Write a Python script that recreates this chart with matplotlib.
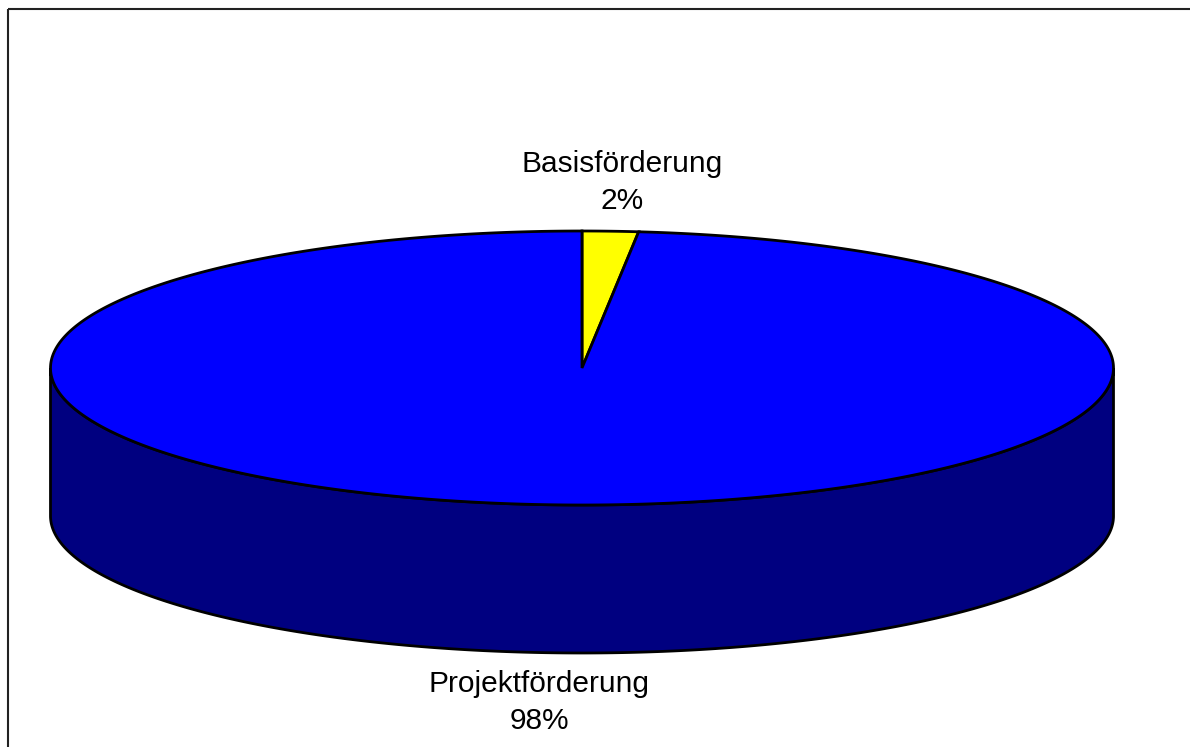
import matplotlib.pyplot as plt
import numpy as np
from matplotlib.patches import Polygon, Rectangle

# Data
labels = ['Basisförderung', 'Projektförderung']
values = [1.7, 98.3]
colors = ['#FFFF00', '#0000FF']
side_color = '#000080'

# Pie geometry in pixel space (y grows downward)
cx, cy = 582, 368
rx, ry = 531.5, 137
depth = 148

fig = plt.figure(figsize=(11.9, 7.47), dpi=100)
ax = fig.add_axes([0, 0, 1, 1])
ax.set_xlim(0, 1190)
ax.set_ylim(747, 0)
ax.axis('off')


def ell(theta, dy=0):
    # theta in degrees, 90 = top (back), counted counter-clockwise
    t = np.radians(theta)
    return cx + rx * np.cos(t), cy - ry * np.sin(t) + dy


# side wall (front half of the cylinder)
t = np.linspace(180, 360, 300)
xt, yt = ell(t)
xb, yb = ell(t[::-1], depth)
side = np.column_stack([np.r_[xt, xb], np.r_[yt, yb]])
ax.add_patch(Polygon(side, closed=True, facecolor=side_color,
                     edgecolor='black', linewidth=2, zorder=1))

# top surface wedges, start at 12 o'clock and go clockwise
total = sum(values)
start = 90.0
mids = []
for v, c in zip(values, colors):
    sweep = 360.0 * v / total
    tt = np.linspace(start, start - sweep, max(int(sweep * 2), 10))
    x, y = ell(tt)
    pts = np.column_stack([np.r_[cx, x], np.r_[cy, y]])
    ax.add_patch(Polygon(pts, closed=True, facecolor=c,
                         edgecolor='black', linewidth=2, zorder=2))
    mids.append(start - sweep / 2)
    start -= sweep

# labels
label_pos = [(622, 172), (539, 692)]
for name, v, (lx, ly) in zip(labels, values, label_pos):
    pct = '%d%%' % round(100 * v / total)
    ax.text(lx, ly, name, ha='center', va='baseline', fontsize=21.5,
            family='Liberation Sans', color='black', zorder=3)
    ax.text(lx, ly + 37, pct, ha='center', va='baseline', fontsize=21.5,
            family='Liberation Sans', color='black', zorder=3)

# chart area border
ax.add_patch(Rectangle((7.5, 8.5), 1200, 800, fill=False,
                       edgecolor='#222222', linewidth=1.5, zorder=4))

fig.savefig('out.png', dpi=100)
